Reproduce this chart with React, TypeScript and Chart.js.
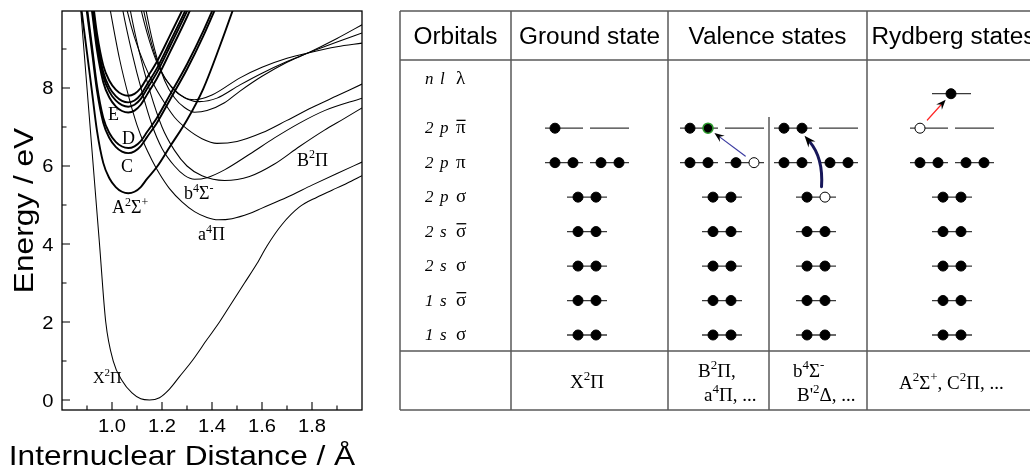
import React, { useEffect, useRef } from 'react';
import { Chart, registerables } from 'chart.js';

Chart.register(...registerables);

const SANS = '"Liberation Sans", Arial, Helvetica, sans-serif';
const SERIF = '"Liberation Serif", "Times New Roman", Times, serif';

/* ---------- NO potential energy curves: R in Å, E in eV ---------- */

// Rydberg states share a common grid around R ≈ 1.065 Å
const RYDBERG_R = [0.86, 0.88, 0.9, 0.92, 0.94, 0.965, 0.99, 1.015, 1.04, 1.065, 1.09, 1.115, 1.14, 1.18, 1.232, 1.3, 1.365, 1.43, 1.5, 1.565];
const A2SIGMA_E = [10.9, 9.9, 8.9, 7.9, 6.9, 6.08, 5.68, 5.46, 5.34, 5.3, 5.34, 5.46, 5.67, 5.98, 6.5, 7.18, 7.98, 9.05, 10.3, 11.5];
const C2PI_E = [11.93, 10.93, 9.93, 8.93, 7.93, 7.11, 6.71, 6.49, 6.37, 6.33, 6.375, 6.51, 6.74, 7.11, 7.7, 8.48, 9.33, 10.28, 11.33, 12.33];
const D2SIGMA_E = [12.06, 11.06, 10.06, 9.06, 8.06, 7.24, 6.84, 6.62, 6.5, 6.46, 6.505, 6.64, 6.87, 7.24, 7.83, 8.61, 9.46, 10.41, 11.46, 12.46];
const E_BAND1_E = [12.97, 11.97, 10.97, 9.97, 8.97, 8.15, 7.75, 7.53, 7.41, 7.37, 7.42, 7.57, 7.83, 8.25, 8.92, 9.82, 10.77, 11.77, 12.77, 13.8];
const E_BAND2_E = [13.12, 12.12, 11.12, 10.12, 9.12, 8.3, 7.9, 7.68, 7.56, 7.52, 7.57, 7.72, 7.98, 8.4, 9.07, 9.97, 10.92, 11.92, 12.92, 13.95];
const E_BAND3_E = [13.23, 12.23, 11.23, 10.23, 9.23, 8.41, 8.01, 7.79, 7.67, 7.63, 7.68, 7.83, 8.09, 8.51, 9.18, 10.08, 11.03, 12.03, 13.03, 14.06];
const E_BAND4_E = [13.4, 12.4, 11.4, 10.4, 9.4, 8.58, 8.18, 7.96, 7.84, 7.8, 7.85, 8.0, 8.26, 8.68, 9.35, 10.25, 11.2, 12.2, 13.2, 14.23];

// Ground state
const X2PI_R = [0.865, 0.875, 0.9, 0.925, 0.95, 0.975, 1.005, 1.04, 1.08, 1.115, 1.15, 1.19, 1.23, 1.27, 1.32, 1.38, 1.43, 1.48, 1.53, 1.58, 1.62, 1.68, 1.75, 1.82, 1.88, 1.94, 2.0];
const X2PI_E = [10.8, 10.0, 8.0, 6.0, 4.0, 2.0, 1.0, 0.5, 0.18, 0.03, 0.0, 0.06, 0.28, 0.6, 1.0, 1.55, 2.0, 2.5, 3.0, 3.5, 3.95, 4.5, 4.95, 5.2, 5.38, 5.56, 5.75];

// Valence states
const A4PI_R = [0.98, 0.99, 1.03, 1.07, 1.1, 1.13, 1.16, 1.19, 1.23, 1.28, 1.33, 1.38, 1.425, 1.48, 1.55, 1.6, 1.7, 1.8, 1.9, 2.0];
const A4PI_E = [10.45, 10.1, 8.75, 7.7, 7.05, 6.55, 6.15, 5.8, 5.42, 5.08, 4.83, 4.68, 4.62, 4.65, 4.78, 4.92, 5.2, 5.51, 5.81, 6.1];
const B4SIGMA_R = [1.03, 1.04, 1.08, 1.12, 1.16, 1.2, 1.25, 1.29, 1.33, 1.38, 1.45, 1.55, 1.65, 1.75, 1.85, 2.0];
const B4SIGMA_E = [10.5, 10.1, 8.9, 7.9, 7.05, 6.45, 6.0, 5.76, 5.66, 5.7, 5.9, 6.3, 6.72, 7.1, 7.42, 7.74];
const B2PI_R = [1.06, 1.07, 1.11, 1.15, 1.2, 1.25, 1.3, 1.36, 1.45, 1.55, 1.65, 1.75, 1.85, 1.93, 2.0];
const B2PI_E = [10.5, 10.1, 8.9, 7.95, 7.0, 6.4, 6.0, 5.75, 5.63, 5.73, 6.05, 6.5, 6.92, 7.22, 7.49];
const V1_R = [1.04, 1.06, 1.09, 1.13, 1.17, 1.21, 1.25, 1.3, 1.36, 1.42, 1.5, 1.6, 1.7, 1.8, 1.9, 2.0];
const V1_E = [10.6, 10.0, 9.3, 8.6, 8.05, 7.62, 7.25, 6.95, 6.7, 6.58, 6.63, 6.85, 7.17, 7.5, 7.8, 8.1];
const U1_R = [1.12, 1.13, 1.17, 1.21, 1.25, 1.29, 1.33, 1.38, 1.45, 1.512, 1.6, 1.7, 1.784, 1.9, 2.0];
const U1_E = [10.6, 10.2, 9.0, 8.2, 7.75, 7.5, 7.38, 7.42, 7.62, 7.92, 8.3, 8.66, 8.9, 9.27, 9.62];
const U2_R = [1.11, 1.12, 1.16, 1.2, 1.25, 1.3, 1.35, 1.42, 1.512, 1.6, 1.7, 1.784, 1.9, 2.0];
const U2_E = [10.6, 10.2, 9.1, 8.4, 7.95, 7.72, 7.65, 7.74, 8.08, 8.38, 8.68, 8.9, 9.18, 9.41];
const U3_R = [1.1, 1.11, 1.15, 1.19, 1.24, 1.29, 1.33, 1.4, 1.512, 1.6, 1.7, 1.784, 1.9, 2.0];
const U3_E = [10.6, 10.2, 9.2, 8.5, 8.0, 7.75, 7.7, 7.82, 8.26, 8.53, 8.76, 8.9, 9.06, 9.15];

const X_TICKS = [1.0, 1.2, 1.4, 1.6, 1.8];
const X_MINOR_TICKS = [0.9, 1.1, 1.3, 1.5, 1.7, 1.9];
const Y_TICKS = [0, 2, 4, 6, 8];
const Y_MINOR_TICKS = [1, 3, 5, 7, 9];

// State names with their anchor (R, E) at the left end of the text baseline
const STATE_NAMES = ['E', 'D', 'C', 'A^{2}Σ^{+}', 'b^{4}Σ^{-}', 'a^{4}Π', 'B^{2}Π', 'X^{2}Π'];
const STATE_NAME_R = [0.984, 1.04, 1.036, 1.0, 1.288, 1.344, 1.74, 0.924];
const STATE_NAME_E = [7.18, 6.56, 5.85, 4.79, 5.15, 4.1, 6.0, 0.44];

/* ---------- orbital occupation table ---------- */

const COLUMN_HEADERS = ['Orbitals', 'Ground state', 'Valence states', 'Rydberg states'];
// orbitals from the bottom: 1sσ, 1sσ̄, 2sσ, 2sσ̄, 2pσ, 2pπ, 2pπ̄
const ORBITAL_N = ['1', '1', '2', '2', '2', '2', '2'];
const ORBITAL_L = ['s', 's', 's', 's', 'p', 'p', 'p'];
const ORBITAL_LAMBDA = ['σ', 'σ', 'σ', 'σ', 'σ', 'π', 'π'];
const ORBITAL_ANTIBONDING = [false, true, false, true, false, false, true];

// 1 = electron, 2 = hole, 3 = promoted electron, 0 = empty
const GROUND_OCC = [[1, 1], [1, 1], [1, 1], [1, 1], [1, 1], [1, 1, 1, 1], [1, 0, 0, 0]];
const VALENCE_PI_OCC = [[1, 1], [1, 1], [1, 1], [1, 1], [1, 1], [1, 1, 1, 2], [1, 3, 0, 0]];
const VALENCE_SIGMA_OCC = [[1, 1], [1, 1], [1, 1], [1, 1], [1, 2], [1, 1, 1, 1], [1, 1, 0, 0]];
const RYDBERG_OCC = [[1, 1], [1, 1], [1, 1], [1, 1], [1, 1], [1, 1, 1, 1], [2, 0, 0, 0], [1]];

const TERM_LINES = [['X^{2}Π'], ['B^{2}Π,', 'a^{4}Π, ...'], ['b^{4}Σ^{-}', "B'^{2}Δ, ..."], ['A^{2}Σ^{+}, C^{2}Π, ...']];

// electron excitations: [diagram, from row, from slot, to row, to slot]
const EXCITATIONS = [
  [1, 5, 3, 6, 1],
  [2, 4, 1, 6, 1],
  [3, 6, 0, 7, 0],
];

/* ---------- layout (table units = px from the table's left edge) ---------- */
const TABLE_COLS = [0, 111, 268, 467, 640];
const VALENCE_SPLIT = 369;
const DIAGRAM_CENTERS = [187, 322, 416, 552];
const LV_TOP = 9.4;
const LV_BOTTOM = -2.176;
const LV_HEAD_LINE = 7.978;
const LV_SPLIT_TOP = 6.324;
const LV_FOOT_LINE = -0.464;
const LV_HEADER_TEXT = 8.442;
const LV_NLAMBDA = 7.43;
const TERM_X = [[187], [298, 304], [393, 397], [499]];
const TERM_LV = [[-1.538], [-1.218, -1.915], [-1.218, -1.915], [-1.567]];
const TERM_ALIGN = ['center', 'left', 'left', 'left'];
const SIGMA_SLOTS = [-9, 9];
const PI_SLOTS = [-32, -14, 14, 32];
const RYD_SLOTS = [-1];
const SIGMA_SEGS = [[-20, 20]];
const PI_SEGS = [[-42, -4], [3, 42]];
const RYD_SEGS = [[-20, 19]];
const ARROW_STYLE = [
  { color: '#3a3aa0', width: 1.2, bend: 0 },
  { color: '#17175a', width: 3, bend: 11 },
  { color: '#ff2626', width: 1.2, bend: 0 },
];

/* ---------- text helpers ---------- */
function stretchedText(ctx: any, text: string, x: number, y: number, size: number, sx: number, align: string) {
  ctx.save();
  ctx.translate(x, y);
  ctx.scale(sx, 1);
  ctx.font = `${size}px ${SANS}`;
  ctx.textAlign = align;
  ctx.textBaseline = 'alphabetic';
  ctx.fillText(text, 0, 0);
  ctx.restore();
}

function parseRich(s: string) {
  const runs: { t: string; sup: boolean }[] = [];
  const re = /\^\{([^}]*)\}/g;
  let last = 0;
  let m: any;
  while ((m = re.exec(s))) {
    if (m.index > last) runs.push({ t: s.slice(last, m.index), sup: false });
    runs.push({ t: m[1], sup: true });
    last = m.index + m[0].length;
  }
  if (last < s.length) runs.push({ t: s.slice(last), sup: false });
  return runs;
}

function richText(ctx: any, s: string, x: number, y: number, size: number, align: string) {
  const runs = parseRich(s);
  const fontOf = (r: any) => `${r.sup ? Math.round(size * 0.68) : size}px ${SERIF}`;
  let w = 0;
  runs.forEach((r) => {
    ctx.font = fontOf(r);
    w += ctx.measureText(r.t).width;
  });
  let cx = align === 'center' ? x - w / 2 : x;
  ctx.textAlign = 'left';
  ctx.textBaseline = 'alphabetic';
  runs.forEach((r) => {
    ctx.font = fontOf(r);
    ctx.fillText(r.t, cx, r.sup ? y - size * 0.42 : y);
    cx += ctx.measureText(r.t).width;
  });
}

function drawArrow(ctx: any, x0: number, y0: number, x1: number, y1: number, style: any) {
  const len = Math.hypot(x1 - x0, y1 - y0);
  const ux = (x1 - x0) / len;
  const uy = (y1 - y0) / len;
  const sx = x0 + ux * 11;
  const sy = y0 + uy * 11;
  const ex = x1 - ux * 8;
  const ey = y1 - uy * 8;
  const cx = (sx + ex) / 2 - uy * style.bend;
  const cy = (sy + ey) / 2 + ux * style.bend;
  let hx = style.bend ? ex - cx : ux;
  let hy = style.bend ? ey - cy : uy;
  const hl = Math.hypot(hx, hy);
  hx /= hl;
  hy /= hl;
  const headLen = 9 + style.width * 0.8;
  const headHalf = 3.4 + style.width * 0.4;
  const nx = ex - hx * headLen * 0.65;
  const ny = ey - hy * headLen * 0.65;
  ctx.strokeStyle = style.color;
  ctx.lineWidth = style.width;
  ctx.lineCap = 'round';
  ctx.beginPath();
  ctx.moveTo(sx, sy);
  if (style.bend) ctx.quadraticCurveTo(cx, cy, nx, ny);
  else ctx.lineTo(nx, ny);
  ctx.stroke();
  const bx = ex - hx * headLen;
  const by = ey - hy * headLen;
  ctx.fillStyle = '#000';
  ctx.beginPath();
  ctx.moveTo(ex, ey);
  ctx.lineTo(bx - hy * headHalf, by + hx * headHalf);
  ctx.lineTo(nx, ny);
  ctx.lineTo(bx + hy * headHalf, by - hx * headHalf);
  ctx.closePath();
  ctx.fill();
}

/* ---------- plugins ---------- */
const energyFramePlugin = {
  id: 'energyFrame',
  afterDraw(chart: any) {
    const { ctx, chartArea: a } = chart;
    const xs = chart.scales.x;
    const ys = chart.scales.y;
    ctx.save();
    ctx.strokeStyle = '#000';
    ctx.lineWidth = 1.3;
    ctx.strokeRect(a.left, a.top, a.right - a.left, a.bottom - a.top);
    ctx.lineWidth = 1.1;
    ctx.beginPath();
    X_TICKS.forEach((v) => { const p = xs.getPixelForValue(v); ctx.moveTo(p, a.bottom); ctx.lineTo(p, a.bottom - 8); });
    X_MINOR_TICKS.forEach((v) => { const p = xs.getPixelForValue(v); ctx.moveTo(p, a.bottom); ctx.lineTo(p, a.bottom - 4.5); });
    Y_TICKS.forEach((v) => { const p = ys.getPixelForValue(v); ctx.moveTo(a.left, p); ctx.lineTo(a.left + 8, p); });
    Y_MINOR_TICKS.forEach((v) => { const p = ys.getPixelForValue(v); ctx.moveTo(a.left, p); ctx.lineTo(a.left + 4.5, p); });
    ctx.stroke();

    ctx.fillStyle = '#000';
    X_TICKS.forEach((v) => stretchedText(ctx, v.toFixed(1), xs.getPixelForValue(v), a.bottom + 22, 18, 1.12, 'center'));
    Y_TICKS.forEach((v) => stretchedText(ctx, String(v), a.left - 8.5, ys.getPixelForValue(v) + 6.5, 18, 1.12, 'right'));

    stretchedText(ctx, 'Internuclear Distance / Å', a.left + 120, 465, 28, 1.13, 'center');
    ctx.save();
    ctx.translate(33, (a.top + a.bottom) / 2);
    ctx.rotate(-Math.PI / 2);
    stretchedText(ctx, 'Energy / eV', 0, 0, 28, 1.13, 'center');
    ctx.restore();

    STATE_NAMES.forEach((name, i) => {
      const size = name.startsWith('X') ? 16 : 18;
      richText(ctx, name, xs.getPixelForValue(STATE_NAME_R[i]), ys.getPixelForValue(STATE_NAME_E[i]), size, 'left');
    });
    ctx.restore();
  },
};

const orbitalTablePlugin = {
  id: 'orbitalTable',
  beforeDatasetsDraw(chart: any) {
    const { ctx } = chart;
    const xs = chart.scales.x;
    const ys = chart.scales.y;
    const X = (v: number) => xs.getPixelForValue(v);
    const Y = (v: number) => ys.getPixelForValue(v);
    ctx.save();
    ctx.strokeStyle = '#5a5a5a';
    ctx.lineWidth = 1.5;
    ctx.beginPath();
    [LV_TOP, LV_HEAD_LINE, LV_FOOT_LINE, LV_BOTTOM].forEach((lv) => {
      ctx.moveTo(X(TABLE_COLS[0]), Y(lv));
      ctx.lineTo(X(TABLE_COLS[TABLE_COLS.length - 1]), Y(lv));
    });
    TABLE_COLS.forEach((c) => { ctx.moveTo(X(c), Y(LV_TOP)); ctx.lineTo(X(c), Y(LV_BOTTOM)); });
    ctx.moveTo(X(VALENCE_SPLIT), Y(LV_SPLIT_TOP));
    ctx.lineTo(X(VALENCE_SPLIT), Y(LV_BOTTOM));
    ctx.stroke();
    ctx.restore();
  },
  afterDatasetsDraw(chart: any) {
    const { ctx } = chart;
    const xs = chart.scales.x;
    const ys = chart.scales.y;
    ctx.save();
    EXCITATIONS.forEach(([d, r0, s0, r1, s1], i) => {
      const x0 = xs.getPixelForValue(DIAGRAM_CENTERS[d] + slotsFor(r0)[s0]);
      const y0 = ys.getPixelForValue(r0);
      const x1 = xs.getPixelForValue(DIAGRAM_CENTERS[d] + slotsFor(r1)[s1]);
      const y1 = ys.getPixelForValue(r1);
      drawArrow(ctx, x0, y0, x1, y1, ARROW_STYLE[i]);
    });
    ctx.restore();
  },
  afterDraw(chart: any) {
    const { ctx } = chart;
    const xs = chart.scales.x;
    const ys = chart.scales.y;
    const X = (v: number) => xs.getPixelForValue(v);
    const Y = (v: number) => ys.getPixelForValue(v);
    ctx.save();
    ctx.fillStyle = '#000';
    COLUMN_HEADERS.forEach((h, i) => {
      stretchedText(ctx, h, X((TABLE_COLS[i] + TABLE_COLS[i + 1]) / 2), Y(LV_HEADER_TEXT), 23, 1.06, 'center');
    });

    ctx.textAlign = 'left';
    ctx.textBaseline = 'alphabetic';
    const label = (a: string, b: string, g: string, bar: boolean, y: number) => {
      ctx.font = `italic 17px ${SERIF}`;
      ctx.fillText(a, X(25), y);
      ctx.fillText(b, X(40), y);
      ctx.font = `19px ${SERIF}`;
      ctx.fillText(g, X(56), y);
      if (bar) {
        const w = ctx.measureText(g).width;
        ctx.fillRect(X(56) + 0.5, y - 13.5, w - 0.5, 1.3);
      }
    };
    label('n', 'l', 'λ', false, Y(LV_NLAMBDA) + 5);
    ORBITAL_N.forEach((n, i) => label(n, ORBITAL_L[i], ORBITAL_LAMBDA[i], ORBITAL_ANTIBONDING[i], Y(i) + 5));

    TERM_LINES.forEach((lines, i) => {
      lines.forEach((t, k) => richText(ctx, t, X(TERM_X[i][k]), Y(TERM_LV[i][k]), 19, TERM_ALIGN[i]));
    });
    ctx.restore();
  },
};

function slotsFor(row: number) {
  return row <= 4 ? SIGMA_SLOTS : row <= 6 ? PI_SLOTS : RYD_SLOTS;
}
function segsFor(row: number) {
  return row <= 4 ? SIGMA_SEGS : row <= 6 ? PI_SEGS : RYD_SEGS;
}

function buildOrbitalData() {
  const filled: any[] = [];
  const holes: any[] = [];
  const promoted: any[] = [];
  const levels: any[] = [];
  [GROUND_OCC, VALENCE_PI_OCC, VALENCE_SIGMA_OCC, RYDBERG_OCC].forEach((occ, d) => {
    const c = DIAGRAM_CENTERS[d];
    occ.forEach((row, lv) => {
      segsFor(lv).forEach(([a, b]) => {
        levels.push({ x: c + a, y: lv }, { x: c + b, y: lv }, { x: c + b, y: null });
      });
      row.forEach((s, k) => {
        const p = { x: c + slotsFor(lv)[k], y: lv };
        if (s === 1) filled.push(p);
        else if (s === 2) holes.push(p);
        else if (s === 3) promoted.push(p);
      });
    });
  });
  return { filled, holes, promoted, levels };
}

function curve(r: number[], e: number[], thick: boolean) {
  return {
    data: r.map((x, i) => ({ x, y: e[i] })),
    borderColor: '#000',
    borderWidth: thick ? 1.9 : 1.05,
    pointRadius: 0,
    fill: false,
    cubicInterpolationMode: 'monotone',
  };
}

export default function App() {
  const leftRef = useRef<HTMLCanvasElement>(null);
  const rightRef = useRef<HTMLCanvasElement>(null);

  useEffect(() => {
    const left = new Chart(leftRef.current as any, {
      type: 'line',
      data: {
        datasets: [
          curve(X2PI_R, X2PI_E, false),
          curve(A4PI_R, A4PI_E, false),
          curve(B4SIGMA_R, B4SIGMA_E, false),
          curve(B2PI_R, B2PI_E, false),
          curve(V1_R, V1_E, false),
          curve(U1_R, U1_E, false),
          curve(U2_R, U2_E, false),
          curve(U3_R, U3_E, false),
          curve(RYDBERG_R, A2SIGMA_E, true),
          curve(RYDBERG_R, C2PI_E, true),
          curve(RYDBERG_R, D2SIGMA_E, true),
          curve(RYDBERG_R, E_BAND1_E, true),
          curve(RYDBERG_R, E_BAND2_E, true),
          curve(RYDBERG_R, E_BAND3_E, true),
          curve(RYDBERG_R, E_BAND4_E, true),
        ] as any,
      },
      options: {
        responsive: false,
        animation: false,
        devicePixelRatio: 1,
        events: [],
        layout: { padding: { left: 62, right: 18, top: 11, bottom: 58 } },
        plugins: { legend: { display: false }, tooltip: { enabled: false } },
        scales: {
          x: { type: 'linear', min: 0.8, max: 2.0, display: false },
          y: { type: 'linear', min: -0.256, max: 9.974, display: false },
        },
      },
      plugins: [energyFramePlugin],
    } as any);

    const orb = buildOrbitalData();
    const right = new Chart(rightRef.current as any, {
      type: 'scatter',
      data: {
        datasets: [
          { data: orb.filled, pointRadius: 5, pointBackgroundColor: '#000', pointBorderColor: '#000', pointBorderWidth: 1, order: 0 },
          { data: orb.promoted, pointRadius: 5, pointBackgroundColor: '#000', pointBorderColor: '#2c9a2c', pointBorderWidth: 1.6, order: 0 },
          { data: orb.holes, pointRadius: 5, pointBackgroundColor: '#fff', pointBorderColor: '#000', pointBorderWidth: 1, order: 1 },
          { type: 'line', data: orb.levels, borderColor: '#3a3a3a', borderWidth: 1.3, pointRadius: 0, spanGaps: false, tension: 0, fill: false, order: 2 },
        ] as any,
      },
      options: {
        responsive: false,
        animation: false,
        devicePixelRatio: 1,
        events: [],
        layout: { padding: { left: 10, right: 10, top: 11, bottom: 58 } },
        plugins: { legend: { display: false }, tooltip: { enabled: false } },
        scales: {
          x: { type: 'linear', min: TABLE_COLS[0], max: TABLE_COLS[TABLE_COLS.length - 1], display: false },
          y: { type: 'linear', min: LV_BOTTOM, max: LV_TOP, display: false },
        },
      },
      plugins: [orbitalTablePlugin],
    } as any);

    return () => {
      left.destroy();
      right.destroy();
    };
  }, []);

  return (
    <div style={{ position: 'absolute', left: 0, top: 0, width: 1030, height: 468, overflow: 'hidden', background: '#fff' }}>
      <canvas ref={leftRef} width={380} height={468} style={{ position: 'absolute', left: 0, top: 0 }} />
      <canvas ref={rightRef} width={660} height={468} style={{ position: 'absolute', left: 390, top: 0 }} />
    </div>
  );
}
